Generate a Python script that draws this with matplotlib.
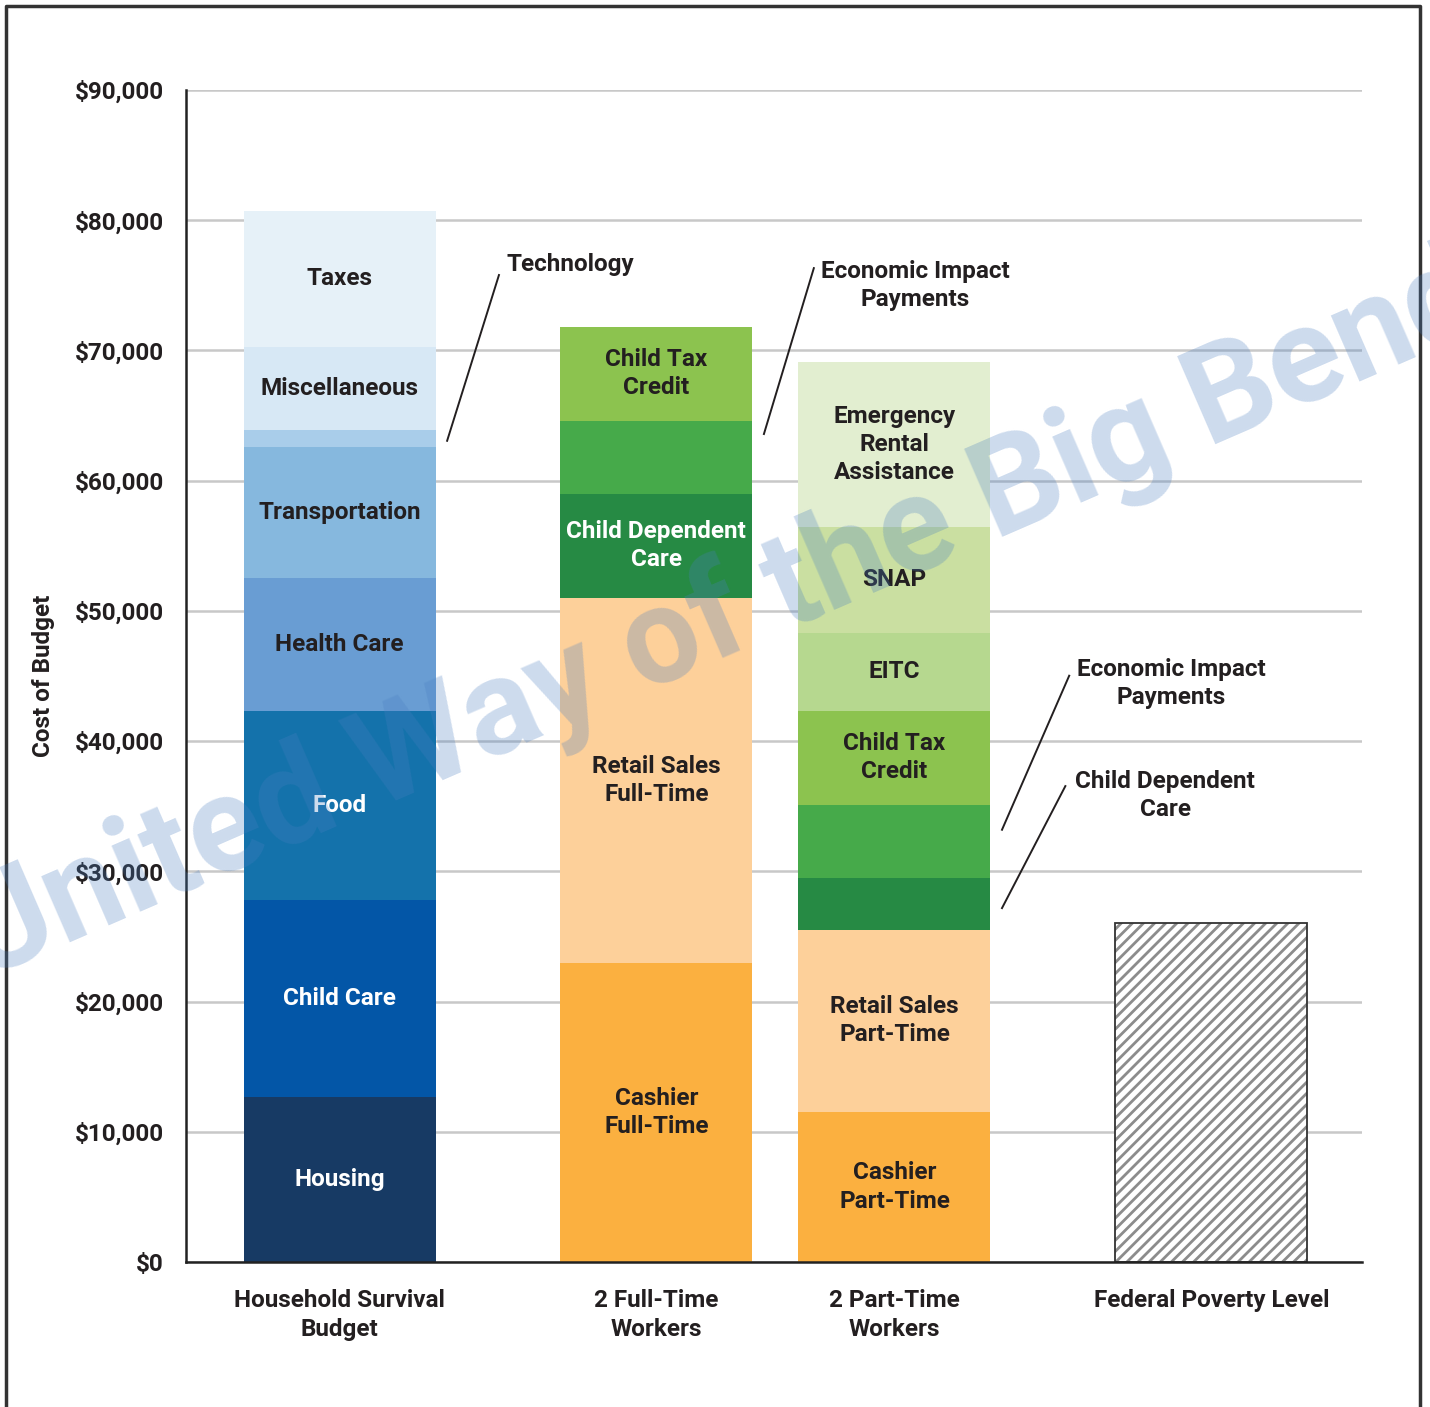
import matplotlib.pyplot as plt
from matplotlib.lines import Line2D
import numpy as np

plt.rcParams['font.family'] = ['Roboto', 'DejaVu Sans']
plt.rcParams['font.weight'] = 'bold'
plt.rcParams['hatch.linewidth'] = 2.0

categories = ['Household Survival\nBudget', '2 Full-Time\nWorkers',
              '2 Part-Time\nWorkers', 'Federal Poverty Level']

budget_labels = ['Housing', 'Child Care', 'Food', 'Health Care', 'Transportation',
                 '', 'Miscellaneous', 'Taxes']
budget_values = [12670, 15130, 14520, 10210, 10060, 1310, 6380, 10440]
budget_colors = ['#173a64', '#0356a7', '#1472ab', '#699dd3', '#86b8de',
                 '#a9cdea', '#d7e8f5', '#e6f1f8']
budget_text = ['white', 'white', 'white', '#231f20', '#231f20', '#231f20', '#231f20', '#231f20']

full_labels = ['Cashier\nFull-Time', 'Retail Sales\nFull-Time', 'Child Dependent\nCare',
               '', 'Child Tax\nCredit']
full_values = [22960, 28040, 7990, 5600, 7220]
full_colors = ['#fbb040', '#fdd09a', '#268a44', '#46aa4a', '#8cc34f']
full_text = ['#231f20', '#231f20', 'white', 'white', '#231f20']

part_labels = ['Cashier\nPart-Time', 'Retail Sales\nPart-Time', '', '',
               'Child Tax\nCredit', 'EITC', 'SNAP', 'Emergency\nRental\nAssistance']
part_values = [11520, 13980, 3990, 5610, 7220, 5990, 8140, 12670]
part_colors = ['#fbb040', '#fdd09a', '#268a44', '#46aa4a', '#8cc34f',
               '#b6d88f', '#cadfa1', '#e2eed0']
part_text = ['#231f20'] * 8

poverty_level = 26000

# layout (bar width = 1 unit = 192 px)
x_pos = [0.80, 2.45, 3.69, 5.34]

fig = plt.figure(figsize=(14.3, 14.07), dpi=100)
ax = fig.add_axes([186/1430, 1-1262/1407, 1176/1430, 1172/1407])
ax.set_xlim(0, 1176/192)
ax.set_ylim(0, 90000)

fs = 17.5
ink = '#231f20'
stacks = [(budget_labels, budget_values, budget_colors, budget_text),
          (full_labels, full_values, full_colors, full_text),
          (part_labels, part_values, part_colors, part_text)]
bottoms = []
for x, (labs, vals, cols, tcs) in zip(x_pos, stacks):
    bottom = 0
    b = []
    for lab, v, c, tc in zip(labs, vals, cols, tcs):
        ax.bar(x, v, bottom=bottom, width=1, color=c, linewidth=0, zorder=2)
        if lab:
            ax.text(x, bottom + v/2, lab, ha='center', va='center', color=tc,
                    fontsize=fs, linespacing=1.28, zorder=3)
        b.append((bottom, v))
        bottom += v
    bottoms.append(b)

# poverty level bar
ax.bar(x_pos[3], poverty_level, width=1, color='white', edgecolor='#8c8c8c',
       hatch='///', linewidth=0, zorder=2)
ax.bar(x_pos[3], poverty_level, width=1, fill=False, edgecolor='#333333',
       linewidth=1.3, zorder=2.5)

# leader lines: (stack, segment, fraction in segment, end dx, end dy, text, text dx, text dy, ha)
notes = [(0, 5, 0.36, 0.27, 12730, 'Technology', 0.31, 13500, 'left'),
         (1, 3, 0.82, 0.26, 12740, 'Economic Impact\nPayments', 0.79, 11440, 'center'),
         (2, 3, 0.66, 0.35, 11830, 'Economic Impact\nPayments', 0.88, 11220, 'center'),
         (2, 2, 0.42, 0.33, 9370, 'Child Dependent\nCare', 0.85, 8680, 'center')]
for si, seg, frac, dx, dy, txt, tdx, tdy, ha in notes:
    b0, v = bottoms[si][seg]
    x0 = x_pos[si] + 0.5 + 0.06
    y0 = b0 + frac * v
    ax.plot([x0, x0 + dx], [y0, y0 + dy], color=ink, linewidth=1.4, zorder=3)
    ax.text(x0 + tdx, y0 + tdy, txt, ha=ha, va='center', fontsize=fs,
            linespacing=1.28, color=ink)

ax.set_yticks(np.arange(0, 90001, 10000))
ax.set_yticklabels([f'${v:,}' for v in range(0, 90001, 10000)], fontsize=fs, color=ink)
ax.set_xticks(x_pos)
ax.set_xticklabels(categories, fontsize=fs, color=ink, linespacing=1.32)
ax.tick_params(axis='y', length=0, pad=16)
ax.tick_params(axis='x', length=0, pad=19.5)
ax.yaxis.grid(True, color='#c8c8c8', linewidth=1.8)
ax.set_axisbelow(True)
for s in ['top', 'right']:
    ax.spines[s].set_visible(False)
for s in ['left', 'bottom']:
    ax.spines[s].set_color('#222222')
    ax.spines[s].set_linewidth(1.8)
ax.set_ylabel('Cost of Budget', fontsize=fs, color=ink, fontweight='bold')
ax.yaxis.set_label_coords(-0.111, 0.5)

# outer frame
fig.add_artist(Line2D([6/1430, 6/1430, 1420/1430, 1420/1430],
                      [0, 1-6/1407, 1-6/1407, 0], transform=fig.transFigure,
                      color='#333333', linewidth=2.5))

# watermark
fig.text(0.505, 0.561, 'United Way of the Big Bend', rotation=23.5, rotation_mode='anchor',
         ha='center', va='center', fontsize=97, color='#4a7fc1', alpha=0.28,
         fontweight='bold', zorder=10)

fig.savefig('out.png', dpi=100)
